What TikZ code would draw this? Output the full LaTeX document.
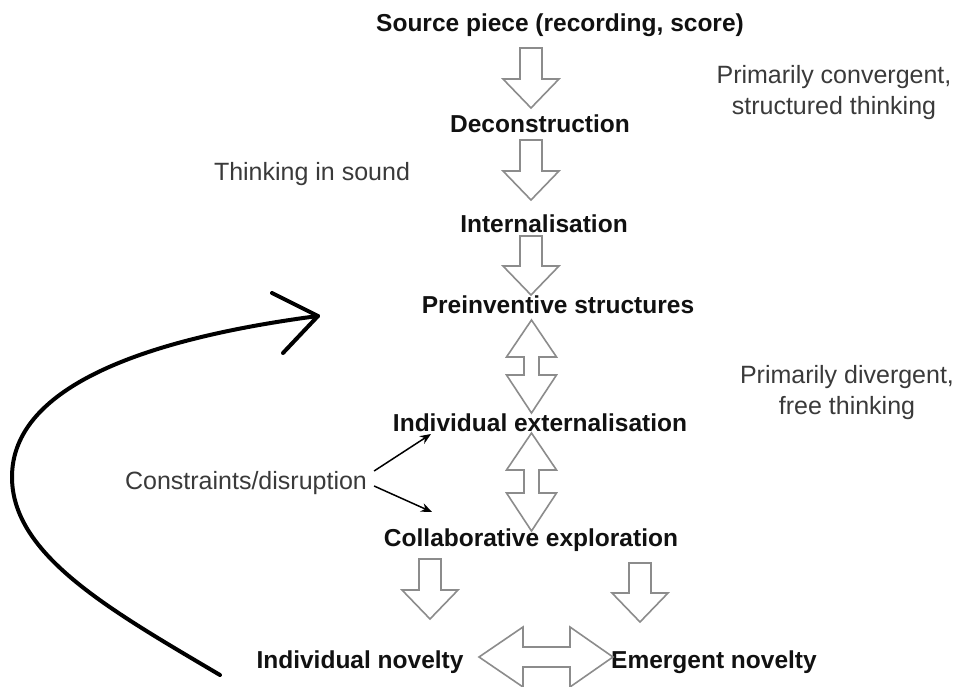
\documentclass[tikz,border=0pt]{standalone}
\usepackage{fontspec}
\setmainfont{Liberation Sans}
\usetikzlibrary{arrows.meta,calc}
\definecolor{arrowgray}{HTML}{8C8C8C}
\definecolor{lighttext}{HTML}{3A3A3A}
\definecolor{boldtext}{HTML}{111111}
\newcommand{\mydownarrow}[3]{% x, top, tip
  \path[hollow] ({#1-11},#2) -- ({#1-11},{#3-29}) -- ({#1-28},{#3-29}) -- (#1,#3)
    -- ({#1+28},{#3-29}) -- ({#1+11},{#3-29}) -- ({#1+11},#2) -- cycle;}
\newcommand{\myvdbl}[3]{% x, top tip, bottom tip
  \path[hollow] (#1,#2) -- ({#1+25},{#2+37}) -- ({#1+7.5},{#2+37}) -- ({#1+7.5},{#3-38})
    -- ({#1+25},{#3-38}) -- (#1,#3) -- ({#1-25},{#3-38}) -- ({#1-7.5},{#3-38})
    -- ({#1-7.5},{#2+37}) -- ({#1-25},{#2+37}) -- cycle;}
\newcommand{\myhdbl}[3]{% y, left tip, right tip
  \path[hollow] (#2,#1) -- ({#2+44},{#1-30}) -- ({#2+44},{#1-10}) -- ({#3-43},{#1-10})
    -- ({#3-43},{#1-30}) -- (#3,#1) -- ({#3-43},{#1+30}) -- ({#3-43},{#1+10})
    -- ({#2+44},{#1+10}) -- ({#2+44},{#1+30}) -- cycle;}
\begin{document}
\begin{tikzpicture}[x=1pt,y=-1pt,
  hollow/.style={draw=arrowgray, line width=1.6pt, line join=miter},
  boldlabel/.style={inner sep=0pt, anchor=base, text=boldtext,
    font=\fontsize{24.5}{30}\selectfont\bfseries},
  lightlabel/.style={inner sep=0pt, anchor=base, text=lighttext,
    font=\fontsize{25}{31}\selectfont, align=center},
  thinarrow/.style={line width=1.5pt, -{Stealth[length=11pt,width=9pt]}},
  bigcurve/.style={line width=4pt, line cap=round, line join=round}]
\useasboundingbox (0,0) rectangle (958,687);
\fill[white] (0,0) rectangle (958,687);

% main labels
\node[boldlabel] (src) at (560,32) {Source piece (recording, score)};
\node[boldlabel] (dec) at (540,133) {Deconstruction};
\node[boldlabel] (int) at (544,233) {Internalisation};
\node[boldlabel] (pre) at (558,313) {Preinventive structures};
\node[boldlabel] (iext) at (540,431) {Individual externalisation};
\node[boldlabel] (coll) at (531,546) {Collaborative exploration};
\node[boldlabel] (inov) at (360,668) {Individual novelty};
\node[boldlabel] (enov) at (714,668) {Emergent novelty};

% side labels
\node[lightlabel] (conv) at (834,115) {Primarily convergent,\\structured thinking};
\node[lightlabel] (snd) at (312,181) {Thinking in sound};
\node[lightlabel] (div) at (847,414) {Primarily divergent,\\free thinking};
\node[lightlabel] (cons) at (246,489) {Constraints/disruption};

% hollow arrows
\mydownarrow{531}{48}{108}
\mydownarrow{531}{140}{200}
\mydownarrow{531}{236}{295}
\myvdbl{531.5}{320}{413}
\myvdbl{531.5}{433}{531}
\mydownarrow{430}{559}{619}
\mydownarrow{640}{563}{622}
\myhdbl{657}{479}{613}

% thin arrows from constraints
\coordinate (ce1) at (431,434);
\coordinate (ce2) at (432,512);
\draw[thinarrow] ([shift={(7,-18)}]cons.base east) -- (ce1);
\draw[thinarrow] ([shift={(7,-3)}]cons.base east) -- (ce2);

% big feedback curve
\coordinate (cstart) at (220,675);
\coordinate (cleft) at (12,477);
\coordinate (ctip) at (318,316);
\draw[bigcurve] (cstart) .. controls (110,610) and (12,555) .. (cleft)
  .. controls (12,385) and (150,338) .. (ctip);
\draw[bigcurve] (272,293) -- (ctip) -- (283,353);
\end{tikzpicture}
\end{document}
